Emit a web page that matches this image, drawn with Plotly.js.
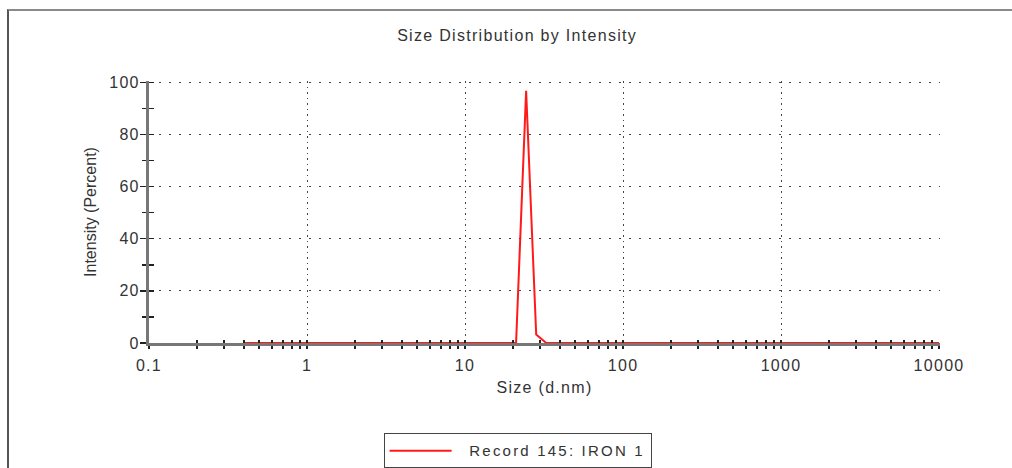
<!DOCTYPE html>
<html>
<head>
<meta charset="utf-8">
<script src="https://cdn.plot.ly/plotly-3.0.1.min.js"></script>
<style>
  html, body { margin: 0; padding: 0; background: #fff; }
  #frame { position: absolute; left: 7px; top: 9px; width: 1100px; height: 600px;
           border-top: 2px solid #8a8a8a; border-left: 2px solid #555; }
  #chart { position: absolute; left: 0; top: 0; width: 1012px; height: 468px; }
  text { letter-spacing: 1.3px; }
  text.ytitle { letter-spacing: 0px; }
  text.legendtext { letter-spacing: 2.2px; }
</style>
</head>
<body>
<div id="frame"></div>
<div id="chart"></div>
<script>
// Size bins (d.nm)
const sizes = [0.4, 0.4632, 0.5365, 0.6213, 0.7195, 0.8332, 0.9649, 1.117, 1.294, 1.499,
  1.736, 2.01, 2.328, 2.696, 3.122, 3.615, 4.187, 4.849, 5.615, 6.503,
  7.531, 8.721, 10.1, 11.7, 13.54, 15.69, 18.17, 21.04, 24.36, 28.21,
  32.67, 37.84, 43.82, 50.75, 58.77, 68.06, 78.82, 91.28, 105.7, 122.4,
  141.8, 164.2, 190.1, 220.2, 255.0, 295.3, 342.0, 396.1, 458.7, 531.2,
  615.1, 712.4, 825.0, 955.4, 1106, 1281, 1484, 1718, 1990, 2305,
  2669, 3091, 3580, 4145, 4801, 5560, 6439, 7456, 8635, 10000];
// Intensity (Percent)
const intensity = [0, 0, 0, 0, 0, 0, 0, 0, 0, 0,
  0, 0, 0, 0, 0, 0, 0, 0, 0, 0,
  0, 0, 0, 0, 0, 0, 0, 0, 96.7, 3.3,
  0, 0, 0, 0, 0, 0, 0, 0, 0, 0,
  0, 0, 0, 0, 0, 0, 0, 0, 0, 0,
  0, 0, 0, 0, 0, 0, 0, 0, 0, 0,
  0, 0, 0, 0, 0, 0, 0, 0, 0, 0];
const seriesName = 'Record 145: IRON 1';

const xTickVals = [0.1, 1, 10, 100, 1000, 10000];
const xTickText = ['0.1', '1', '10', '100', '1000', '10000'];
const xMinorVals = [0.2, 0.3, 0.4, 0.5, 0.6, 0.7, 0.8, 0.9,
  2, 3, 4, 5, 6, 7, 8, 9, 20, 30, 40, 50, 60, 70, 80, 90,
  200, 300, 400, 500, 600, 700, 800, 900, 2000, 3000, 4000, 5000, 6000, 7000, 8000, 9000];
const yTickVals = [0, 20, 40, 60, 80, 100];
const yMinorVals = [10, 30, 50, 70, 90];

const fontFam = '"Liberation Sans", Arial, sans-serif';
const txtCol = '#333';
const axisCol = '#777';
const tickCol = '#222';
const gridCol = '#444';

const data = [
  {
    x: sizes, y: intensity, type: 'scatter', mode: 'lines', name: '&nbsp;&nbsp;' + seriesName,
    line: { color: 'rgba(255,0,0,0.9)', width: 2 }
  },
  {
    x: sizes, y: intensity, type: 'scatter', mode: 'lines', xaxis: 'x2', yaxis: 'y2',
    showlegend: false, hoverinfo: 'skip', line: { color: 'rgba(0,0,0,0)', width: 0 }
  }
];

const layout = {
  width: 1012, height: 468,
  margin: { l: 149, r: 72, t: 81, b: 125, autoexpand: false },
  paper_bgcolor: 'rgba(0,0,0,0)',
  plot_bgcolor: 'rgba(0,0,0,0)',
  font: { family: fontFam, color: txtCol, size: 16 },
  title: { text: 'Size Distribution by Intensity', x: 0.511, xanchor: 'center', y: 0.925, yanchor: 'middle',
           font: { family: fontFam, size: 16, color: txtCol } },
  showlegend: true,
  legend: {
    orientation: 'h', x: 0.466, xanchor: 'center', y: -0.345, yanchor: 'top',
    bordercolor: '#444', borderwidth: 1, bgcolor: '#fff',
    font: { family: fontFam, size: 15, color: txtCol },
    itemwidth: 62
  },
  xaxis: {
    type: 'log', range: [-1, 4.006], layer: 'below traces',
    tickmode: 'array', tickvals: xTickVals, ticktext: xTickText,
    ticks: 'outside', ticklen: 3, tickwidth: 2, tickcolor: tickCol, ticklabelstandoff: 3,
    showline: true, linecolor: axisCol, linewidth: 3, zeroline: false,
    showgrid: true, gridcolor: gridCol, gridwidth: 1, griddash: '1.5px,4px',
    tickfont: { family: fontFam, size: 16, color: txtCol },
    minor: { tickmode: 'array', tickvals: xMinorVals, ticks: 'outside', ticklen: 3, tickwidth: 2, tickcolor: tickCol, showgrid: false },
    title: { text: 'Size (d.nm)', standoff: 9, font: { family: fontFam, size: 16, color: txtCol } }
  },
  yaxis: {
    range: [0, 100.5], layer: 'below traces',
    tickmode: 'array', tickvals: yTickVals,
    ticks: 'outside', ticklen: 6, tickwidth: 1.5, tickcolor: tickCol, ticklabelstandoff: -3,
    showline: true, linecolor: axisCol, linewidth: 3, zeroline: false,
    showgrid: true, gridcolor: gridCol, gridwidth: 1, griddash: '1.5px,8.5px',
    tickfont: { family: fontFam, size: 16, color: txtCol },
    minor: { tickmode: 'array', tickvals: yMinorVals, ticks: 'outside', ticklen: 4, tickwidth: 1.5, tickcolor: tickCol, showgrid: false },
    title: { text: 'Intensity (Percent)', standoff: 9, font: { family: fontFam, size: 16, color: txtCol } }
  },
  xaxis2: {
    type: 'log', range: [-1, 4.006], overlaying: 'x', anchor: 'y2', layer: 'above traces',
    tickmode: 'array', tickvals: xTickVals, showticklabels: false,
    ticks: 'inside', ticklen: 3, tickwidth: 2, tickcolor: tickCol,
    showline: false, showgrid: false, zeroline: false,
    minor: { tickmode: 'array', tickvals: xMinorVals, ticks: 'inside', ticklen: 3, tickwidth: 2, tickcolor: tickCol, showgrid: false }
  },
  yaxis2: {
    range: [0, 100.5], overlaying: 'y', anchor: 'x2', side: 'left', layer: 'above traces',
    tickmode: 'array', tickvals: yTickVals, showticklabels: false,
    ticks: 'inside', ticklen: 5, tickwidth: 1.5, tickcolor: tickCol,
    showline: false, showgrid: false, zeroline: false,
    minor: { tickmode: 'array', tickvals: yMinorVals, ticks: 'inside', ticklen: 5, tickwidth: 1.5, tickcolor: tickCol, showgrid: false }
  }
};

Plotly.newPlot('chart', data, layout, { displayModeBar: false, staticPlot: true });
</script>
</body>
</html>
